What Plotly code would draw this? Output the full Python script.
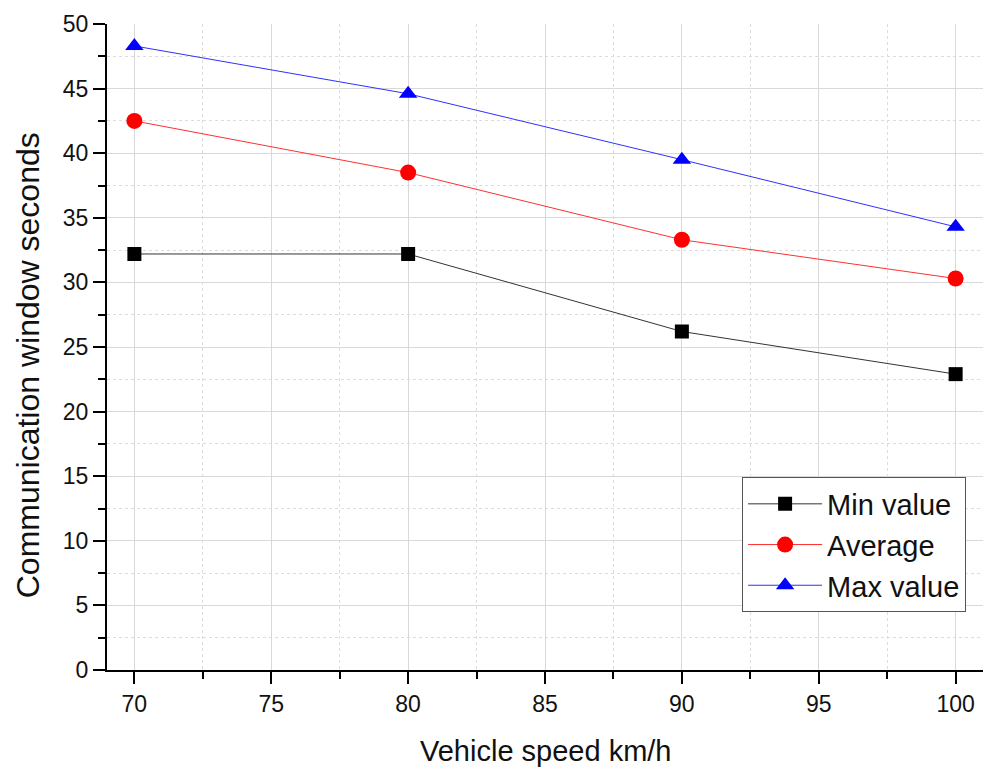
import plotly.graph_objects as go

speeds = [70, 80, 90, 100]
min_value = [32.2, 32.2, 26.2, 22.9]
average = [42.5, 38.5, 33.3, 30.3]
max_value = [48.3, 44.6, 39.5, 34.3]

FONT = "Liberation Sans, Arial, sans-serif"

fig = go.Figure()
fig.add_trace(go.Scatter(x=speeds, y=min_value, name="Min value", mode="lines+markers",
                         line=dict(color="#333333", width=1),
                         marker=dict(symbol="square", size=14, color="black")))
fig.add_trace(go.Scatter(x=speeds, y=average, name="Average", mode="lines+markers",
                         line=dict(color="#ff3030", width=1),
                         marker=dict(symbol="circle", size=16, color="#ff0000")))
fig.add_trace(go.Scatter(x=speeds, y=max_value, name="Max value", mode="lines+markers",
                         line=dict(color="#3030ff", width=1),
                         marker=dict(symbol="triangle-up", size=16, color="#0000ff")))

axis_common = dict(
    showline=True, linecolor="black", linewidth=2,
    ticks="outside", ticklen=12, tickwidth=2, tickcolor="black",
    showgrid=True, gridcolor="#d9d9d9", gridwidth=1,
    zeroline=False,
    tickfont=dict(family=FONT, size=23, color="#111111"),
    minor=dict(dtick=2.5, ticks="outside", ticklen=7, tickwidth=2, tickcolor="black",
               showgrid=True, gridcolor="#dddddd", griddash="dot", gridwidth=1),
)

fig.update_layout(
    width=984, height=769,
    margin=dict(l=107, r=1, t=24, b=99),
    paper_bgcolor="white", plot_bgcolor="white",
    font=dict(family=FONT, color="#111111"),
    xaxis=dict(range=[69, 101], tick0=70, dtick=5, **axis_common),
    yaxis=dict(range=[0, 50], tick0=0, dtick=5, **axis_common),
    legend=dict(x=0.725, y=0.298, xanchor="left", yanchor="top",
                bordercolor="#555555", borderwidth=1, bgcolor="white",
                font=dict(family=FONT, size=29, color="#111111"),
                tracegroupgap=0, itemwidth=74),
    showlegend=True,
    annotations=[
        dict(text="Vehicle speed km/h", xref="paper", yref="paper", x=0.5, y=-0.1254,
             xanchor="center", yanchor="middle", showarrow=False,
             font=dict(family=FONT, size=29, color="#111111")),
        dict(text="Communication window seconds", xref="paper", yref="paper",
             x=-0.090, y=0.472, xanchor="center", yanchor="middle", textangle=-90,
             showarrow=False, font=dict(family=FONT, size=32, color="#111111")),
    ],
)

fig.write_html("out.html", config={"displayModeBar": False},
               post_script="document.body.style.margin='0';")
